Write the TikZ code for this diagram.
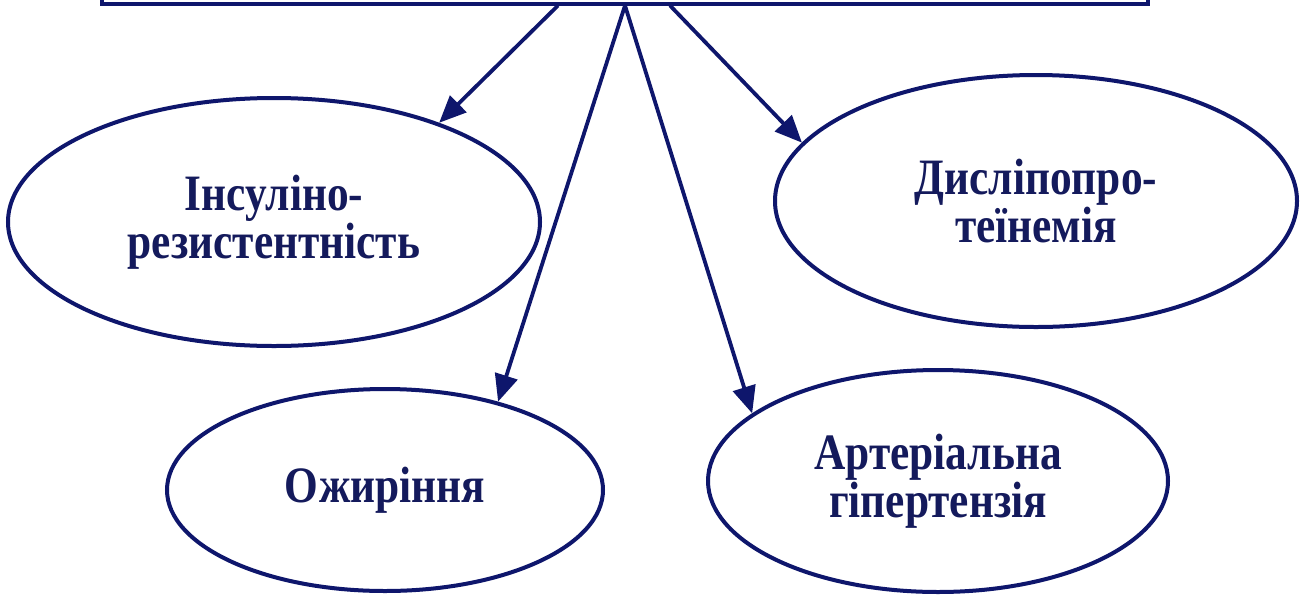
\documentclass[tikz,border=0pt]{standalone}
\usepackage{fontspec}
\newfontfamily\lblfont{Liberation Serif}[FakeStretch=0.85]
\usetikzlibrary{shapes.geometric,arrows.meta}
\definecolor{linecol}{RGB}{14,22,108}
\definecolor{txtcol}{RGB}{20,26,92}
\tikzset{
  bubble/.style={ellipse, draw=linecol, line width=4pt, inner sep=0pt,
    align=center, text=txtcol,
    font=\lblfont\bfseries\fontsize{51}{48}\selectfont},
  topbox/.style={rectangle, draw=linecol, line width=4pt, inner sep=0pt},
  arr/.style={draw=linecol, line width=3.8pt,
    -{Triangle[length=27pt,width=23pt]}}
}
\begin{document}
\begin{tikzpicture}[x=1pt,y=-1pt]
\useasboundingbox[fill=white] (0,0) rectangle (1301,595);
\node[topbox, minimum width=1046pt, minimum height=120pt, anchor=south] (top) at (625,5.5) {};
\coordinate (s1) at ([xshift=-67pt]top.south);
\coordinate (s2) at (top.south);
\coordinate (s4) at ([xshift=45pt]top.south);

\node[bubble, minimum width=532pt, minimum height=248pt] (e1) at (274,222) {Інсуліно-\\резистентність};
\node[bubble, minimum width=522pt, minimum height=252pt] (e2) at (1036,201) {Дисліпопро-\\теїнемія};
\node[bubble, minimum width=436pt, minimum height=202pt] (e3) at (385,490) {Ожиріння};
\node[bubble, minimum width=460pt, minimum height=222pt] (e4) at (938,481) {Артеріальна\\гіпертензія};

\draw[arr] (s1) -- (e1.31);
\draw[arr] (s2) -- (e3.38);
\draw[arr] (s2) -- (e4.160);
\draw[arr] (s4) -- (e2.166);
\end{tikzpicture}
\end{document}
